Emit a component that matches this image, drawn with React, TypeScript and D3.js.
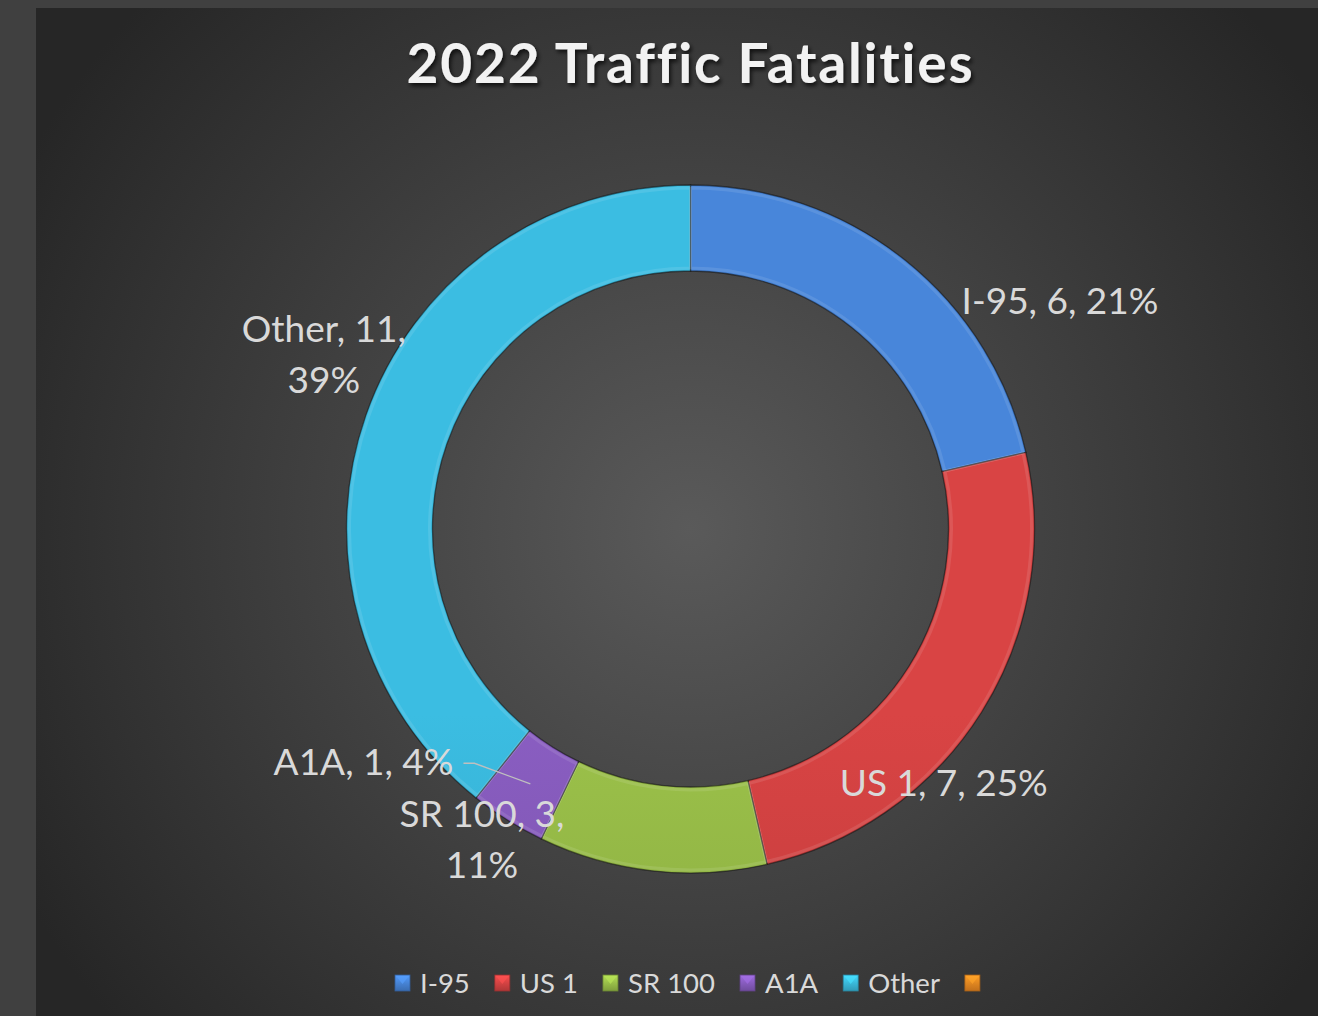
import { useEffect, useRef } from 'react';
import * as d3 from 'd3';

const categories = ['I-95', 'US 1', 'SR 100', 'A1A', 'Other', ''];
const fatalities = [6, 7, 3, 1, 11, 0];
const colors = ['#4886da', '#d94444', '#9cc24a', '#8a5ec2', '#3bbde2', '#ef8a22'];
const chartTitle = '2022 Traffic Fatalities';

// label placement relative to the outer point of each slice (style, not data)
const labelOffsets: { dx: number; dy: number; lines: number; anchor: string }[] = [
  { dx: 155, dy: 54, lines: 1, anchor: 'middle' },
  { dx: -38, dy: 84, lines: 1, anchor: 'middle' },
  { dx: -170, dy: -44, lines: 2, anchor: 'middle' },
  { dx: -54, dy: -45, lines: 1, anchor: 'end' },
  { dx: -42, dy: -73, lines: 2, anchor: 'middle' },
];

export default function App() {
  const svgRef = useRef<SVGSVGElement>(null);

  useEffect(() => {
    if (!svgRef.current) return;
    const width = 1318;
    const height = 1016;
    const cx = 690.5;
    const cy = 529;
    const outer = 344;
    const inner = 258;
    const font = 'Lato, "Open Sans", sans-serif';

    d3.select(svgRef.current).selectAll('*').remove();
    const svg = d3.select(svgRef.current).attr('width', width).attr('height', height);
    const defs = svg.append('defs');

    // background
    const bg = defs.append('radialGradient').attr('id', 'bg')
      .attr('gradientUnits', 'userSpaceOnUse')
      .attr('cx', cx).attr('cy', cy).attr('r', 760);
    bg.append('stop').attr('offset', 0).attr('stop-color', '#5a5a5a');
    bg.append('stop').attr('offset', 1).attr('stop-color', '#262626');

    svg.append('rect').attr('width', width).attr('height', height).attr('fill', '#404040');
    svg.append('rect').attr('x', 36).attr('y', 8)
      .attr('width', width - 36).attr('height', height - 8).attr('fill', 'url(#bg)');

    const shadow = defs.append('filter').attr('id', 'shadow')
      .attr('x', '-10%').attr('y', '-20%').attr('width', '120%').attr('height', '150%');
    shadow.append('feDropShadow').attr('dx', 2).attr('dy', 3).attr('stdDeviation', 2)
      .attr('flood-color', '#000').attr('flood-opacity', 0.7);

    colors.forEach((c, i) => {
      const g = defs.append('linearGradient').attr('id', `grad${i}`)
        .attr('gradientUnits', 'userSpaceOnUse')
        .attr('x1', 0).attr('x2', 0).attr('y1', cy - outer).attr('y2', cy + outer);
      g.append('stop').attr('offset', 0).attr('stop-color', c);
      g.append('stop').attr('offset', 0.45).attr('stop-color', d3.color(c)!.darker(0.3).formatHex());
      g.append('stop').attr('offset', 1).attr('stop-color', d3.color(c)!.darker(0.85).formatHex());
      const lg = defs.append('linearGradient').attr('id', `leg${i}`)
        .attr('x1', 0).attr('x2', 0).attr('y1', 0).attr('y2', 1);
      lg.append('stop').attr('offset', 0).attr('stop-color', d3.color(c)!.brighter(0.4).formatHex());
      lg.append('stop').attr('offset', 1).attr('stop-color', d3.color(c)!.darker(0.6).formatHex());
    });

    // title
    svg.append('text')
      .attr('x', cx).attr('y', 83)
      .attr('text-anchor', 'middle')
      .attr('font-family', font).attr('font-weight', 700).attr('font-size', 55)
      .attr('letter-spacing', 1.8)
      .attr('fill', '#f2f2f2')
      .attr('filter', 'url(#shadow)')
      .text(chartTitle);

    const total = d3.sum(fatalities);
    const pie = d3.pie<number>().sort(null).value(d => d);
    const arcs = pie(fatalities);
    const arc = d3.arc<d3.PieArcDatum<number>>().innerRadius(inner).outerRadius(outer);
    const bevel = d3.arc<d3.PieArcDatum<number>>().innerRadius(inner + 3).outerRadius(outer - 3);

    const gBody = svg.append('g').attr('transform', `translate(${cx},${cy})`);

    const slices = arcs.filter(a => a.data > 0);
    gBody.selectAll('path.slice')
      .data(slices)
      .join('path')
      .attr('class', 'slice')
      .attr('d', arc)
      .attr('fill', d => `url(#grad${d.index})`)
      .attr('stroke', 'rgba(20,20,20,0.6)')
      .attr('stroke-width', 1.3);

    // subtle bevel highlight
    gBody.selectAll('path.bevel')
      .data(slices)
      .join('path')
      .attr('class', 'bevel')
      .attr('d', bevel)
      .attr('fill', 'none')
      .attr('stroke', 'rgba(255,255,255,0.1)')
      .attr('stroke-width', 3);

    // data labels
    const labelColor = '#d9d9d9';
    const fs = 37;
    const lineH = 51;
    slices.forEach(d => {
      const i = d.index;
      const mid = (d.startAngle + d.endAngle) / 2;
      const ox = outer * Math.sin(mid);
      const oy = -outer * Math.cos(mid);
      const off = labelOffsets[i];
      const pct = Math.round((d.data / total) * 100);
      const full = `${categories[i]}, ${d.data}, ${pct}%`;
      const lines = off.lines === 2
        ? [`${categories[i]}, ${d.data},`, `${pct}%`]
        : [full];
      const t = gBody.append('text')
        .attr('text-anchor', off.anchor)
        .attr('font-family', font).attr('font-size', fs)
        .attr('fill', labelColor);
      lines.forEach((ln, k) => {
        t.append('tspan')
          .attr('x', ox + off.dx)
          .attr('y', oy + off.dy + k * lineH)
          .text(ln);
      });
      if (categories[i] === 'A1A') {
        const [mx, my] = arc.centroid(d);
        const lx = ox + off.dx + 10;
        const ly = oy + off.dy - 12;
        gBody.append('path')
          .attr('d', d3.line()([[lx, ly], [lx + 11, ly], [mx, my]]))
          .attr('fill', 'none')
          .attr('stroke', '#bfbfbf')
          .attr('stroke-width', 1.3);
      }
    });

    // legend
    const legend = svg.append('g').attr('transform', 'translate(0,983)');
    let lx = 395;
    categories.forEach((name, i) => {
      legend.append('rect')
        .attr('x', lx).attr('y', -8).attr('width', 15).attr('height', 16)
        .attr('fill', `url(#leg${i})`)
        .attr('stroke', d3.color(colors[i])!.darker(1).formatHex())
        .attr('stroke-width', 0.8);
      legend.append('path')
        .attr('d', `M${lx + 1},${-7}L${lx + 14},${-7}L${lx + 7.5},${1}Z`)
        .attr('fill', d3.color(colors[i])!.brighter(0.5).formatHex())
        .attr('opacity', 0.6);
      const t = legend.append('text')
        .attr('x', lx + 25).attr('y', 10)
        .attr('font-family', font).attr('font-size', 27.5)
        .attr('fill', labelColor)
        .text(name);
      const w = (t.node() as SVGTextElement).getComputedTextLength();
      lx += 25 + w + 25;
    });
  }, []);

  return (
    <div style={{ position: 'absolute', left: 0, top: 0 }}>
      <svg ref={svgRef} style={{ display: 'block' }}></svg>
    </div>
  );
}
